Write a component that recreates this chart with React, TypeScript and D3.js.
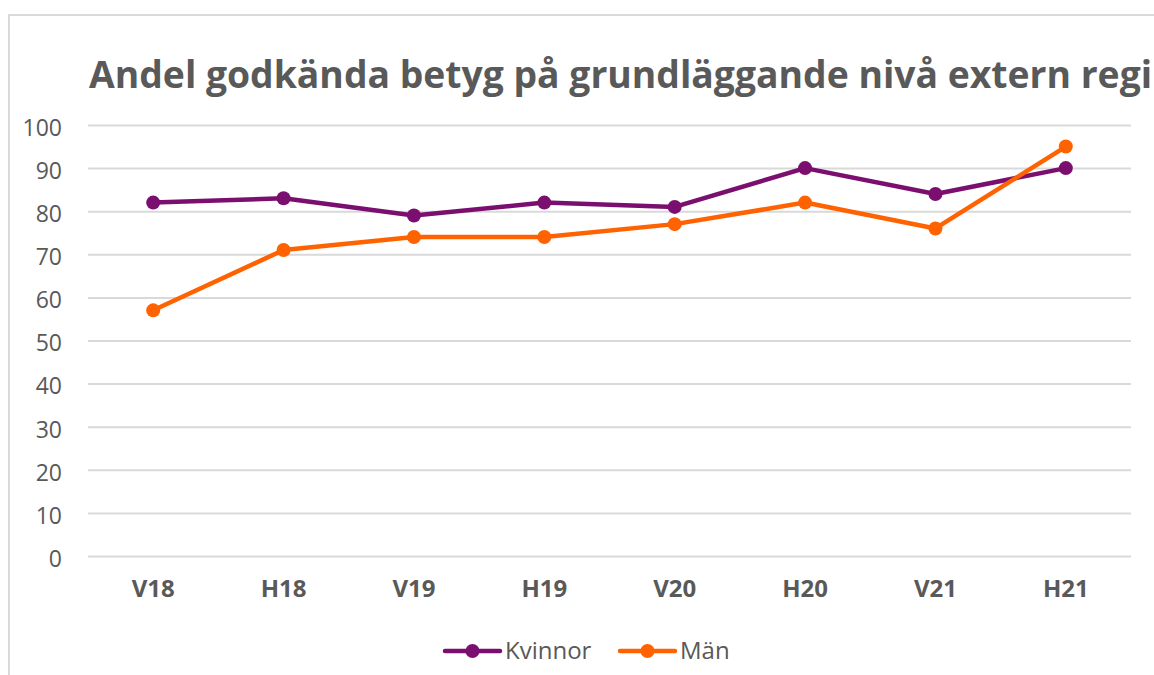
import React from "react";
import * as d3 from "d3";

const categories = ["V18", "H18", "V19", "H19", "V20", "H20", "V21", "H21"];
const kvinnor = [82, 83, 79, 82, 81, 90, 84, 90];
const man = [57, 71, 74, 74, 77, 82, 76, 95];
const yTicks = [0, 10, 20, 30, 40, 50, 60, 70, 80, 90, 100];

const series = [
  { name: "Kvinnor", values: kvinnor, color: "#7B0F6F" },
  { name: "Män", values: man, color: "#FF6200" },
];

const width = 1154;
const height = 675;
const font = "'Open Sans', sans-serif";

const App: React.FC = () => {
  const svgRef = React.useRef<SVGSVGElement | null>(null);

  React.useEffect(() => {
    if (!svgRef.current) return;
    const svg = d3.select(svgRef.current);
    svg.selectAll("*").remove();

    const margin = { top: 125, right: 23, bottom: 119, left: 88 };
    const innerWidth = width - margin.left - margin.right;
    const innerHeight = height - margin.top - margin.bottom;

    // chart frame
    svg
      .append("path")
      .attr("d", `M9,${height} L9,15 L${width},15`)
      .attr("fill", "none")
      .attr("stroke", "#d9d9d9")
      .attr("stroke-width", 2);

    svg
      .append("text")
      .attr("x", 89)
      .attr("y", 88)
      .attr("font-family", font)
      .attr("font-weight", 700)
      .attr("font-size", 37.3)
      .attr("fill", "#595959")
      .text("Andel godkända betyg på grundläggande nivå extern regi");

    const g = svg
      .append("g")
      .attr("transform", `translate(${margin.left}, ${margin.top})`);

    const x = d3.scaleBand().domain(categories).range([0, innerWidth]);
    const y = d3.scaleLinear().domain([0, 100]).range([innerHeight, 0]);

    const yAxis = g
      .append("g")
      .call(
        d3
          .axisLeft(y)
          .tickValues(yTicks)
          .tickSize(-innerWidth)
          .tickPadding(26)
      );
    yAxis.select(".domain").remove();
    yAxis.selectAll(".tick line").attr("stroke", "#d9d9d9").attr("stroke-width", 2);
    yAxis
      .selectAll(".tick text")
      .attr("font-family", font)
      .attr("font-size", 23)
      .attr("dy", "0.45em")
      .attr("fill", "#595959");

    const xAxis = g
      .append("g")
      .attr("transform", `translate(0, ${innerHeight})`)
      .call(d3.axisBottom(x).tickSize(0).tickPadding(24));
    xAxis.select(".domain").remove();
    xAxis
      .selectAll(".tick text")
      .attr("font-family", font)
      .attr("font-weight", 700)
      .attr("font-size", 24)
      .attr("fill", "#595959");

    const line = d3
      .line<number>()
      .x((d, i) => (x(categories[i]) ?? 0) + x.bandwidth() / 2)
      .y((d) => y(d));

    series.forEach((s) => {
      g.append("path")
        .datum(s.values)
        .attr("d", line)
        .attr("fill", "none")
        .attr("stroke", s.color)
        .attr("stroke-width", 4.5)
        .attr("stroke-linejoin", "round");
      g.selectAll(null)
        .data(s.values)
        .enter()
        .append("circle")
        .attr("cx", (d, i) => (x(categories[i]) ?? 0) + x.bandwidth() / 2)
        .attr("cy", (d) => y(d))
        .attr("r", 7)
        .attr("fill", s.color);
    });

    // legend
    const legendX = [445, 620];
    const legendY = 651;
    series.forEach((s, i) => {
      const lg = svg.append("g").attr("transform", `translate(${legendX[i]}, ${legendY})`);
      lg.append("line")
        .attr("x1", 0)
        .attr("x2", 55)
        .attr("stroke", s.color)
        .attr("stroke-width", 4.5)
        .attr("stroke-linecap", "round");
      lg.append("circle").attr("cx", 27.5).attr("r", 7).attr("fill", s.color);
      lg.append("text")
        .attr("x", 60)
        .attr("dy", "0.35em")
        .attr("font-family", font)
        .attr("font-size", 24)
        .attr("fill", "#595959")
        .text(s.name);
    });
  }, []);

  return (
    <svg
      ref={svgRef}
      width={width}
      height={height}
      style={{ position: "absolute", left: 0, top: 0, background: "#fff" }}
    ></svg>
  );
};

export default App;
